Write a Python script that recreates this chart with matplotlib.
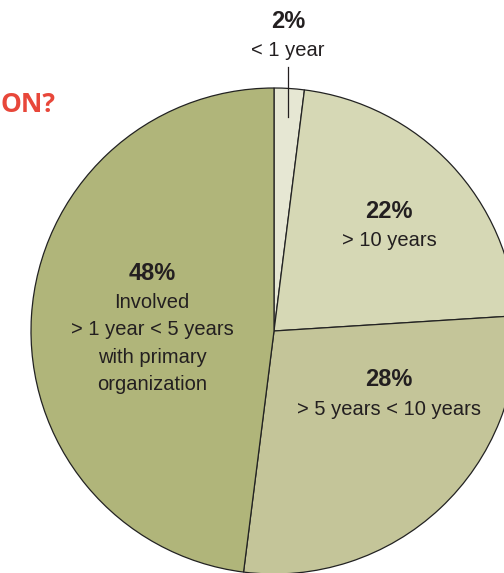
import matplotlib
matplotlib.use("Agg")
import matplotlib.pyplot as plt
from matplotlib import font_manager

# data
labels = ["< 1 year", "> 10 years", "> 5 years < 10 years",
          "Involved\n> 1 year < 5 years\nwith primary\norganization"]
shares = [2, 22, 28, 48]
colors = ["#e6e7d3", "#d6d8b5", "#c4c599", "#b0b57a"]

names = {f.name for f in font_manager.fontManager.ttflist}
fam = "Liberation Sans Narrow" if "Liberation Sans Narrow" in names else "Liberation Sans"

W, H = 504, 573
fig = plt.figure(figsize=(W / 100, H / 100), dpi=100)
ax = fig.add_axes([0, 0, 1, 1])

cx, cy, r = 274, H - 331, 243
ax.pie(shares, colors=colors, startangle=90, counterclock=False,
       center=(cx, cy), radius=r, frame=True,
       wedgeprops=dict(edgecolor="#222222", linewidth=0.9))
ax.set_xlim(0, W)
ax.set_ylim(0, H)
ax.set_aspect("auto")
ax.axis("off")

# label positions (image pixels)
pos = [(288, 21), (389, 211), (389, 380), (152, 273)]
for (x, y), lab, s in zip(pos, labels, shares):
    ax.text(x, H - y, f"{s}%", ha="center", va="center", fontsize=17,
            fontweight="bold", family=fam, color="#231f20")
    ax.text(x, H - y - 20, lab, ha="center", va="top", fontsize=14.5,
            family=fam, color="#231f20", linespacing=1.56)

# leader line for the small slice
ax.plot([288, 288], [H - 67, H - 117], color="#231f20", lw=0.9)

# title fragment (cut off in the source)
ax.text(0, H - 105, "ON?", ha="left", va="center", fontsize=19,
        fontweight="bold", family="Open Sans", color="#e8473a")

fig.savefig("out.png", dpi=100)
